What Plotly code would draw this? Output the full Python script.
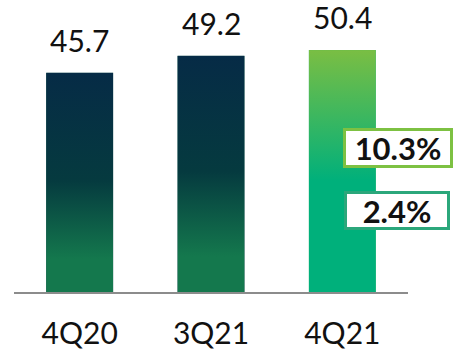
import base64
import plotly.graph_objects as go

categories = ["4Q20", "3Q21", "4Q21"]
values = [45.7, 49.2, 50.4]
value_labels = ["45.7", "49.2", "50.4"]
growth_labels = ["10.3%", "2.4%"]

dark_grad = [("0", "#062B46"), ("0.49", "#053A3F"), ("0.85", "#14784D"), ("1", "#14784D")]
light_grad = [("0", "#7ABE43"), ("0.54", "#00B07B"), ("1", "#00B07B")]
bar_grads = [dark_grad, dark_grad, light_grad]
bar_base_colors = ["#0B4A45", "#0B4A45", "#22B468"]


def grad_uri(stops):
    st = "".join(f'<stop offset="{o}" stop-color="{c}"/>' for o, c in stops)
    svg = (
        '<svg xmlns="http://www.w3.org/2000/svg" width="100" height="100" '
        'viewBox="0 0 100 100" preserveAspectRatio="none">'
        f'<defs><linearGradient id="g" x1="0" y1="0" x2="0" y2="1">{st}</linearGradient></defs>'
        '<rect x="0" y="0" width="100" height="100" fill="url(#g)"/></svg>'
    )
    return "data:image/svg+xml;base64," + base64.b64encode(svg.encode()).decode()


BAR_W = 0.51
fig = go.Figure()
fig.add_trace(go.Bar(
    x=categories, y=values, width=BAR_W,
    marker=dict(color=bar_base_colors, line=dict(width=0)),
    hoverinfo="skip",
))

images = []
for i, v in enumerate(values):
    images.append(dict(
        source=grad_uri(bar_grads[i]), xref="x", yref="y",
        x=i, y=v, sizex=BAR_W, sizey=v, xanchor="center", yanchor="top",
        sizing="stretch", layer="above",
    ))

annotations = []
for i, (v, lab) in enumerate(zip(values, value_labels)):
    annotations.append(dict(
        x=i, y=v, xref="x", yref="y", text=lab, showarrow=False,
        yanchor="bottom", yshift=18, height=28, borderpad=0,
        font=dict(family="Lato", size=30, color="#111111"),
    ))

annotations.append(dict(
    x=0.9746, y=0.5, xref="paper", yref="paper",
    text="<b>" + growth_labels[0] + "</b>", showarrow=False,
    xanchor="center", yanchor="middle",
    font=dict(family="Lato", size=31, color="#111111"),
    bgcolor="white", bordercolor="#7DC142", borderwidth=3, borderpad=0,
    width=104, height=34,
))
annotations.append(dict(
    x=0.972, y=0.283, xref="paper", yref="paper",
    text="<b>" + growth_labels[1] + "</b>", showarrow=False,
    xanchor="center", yanchor="middle",
    font=dict(family="Lato", size=31, color="#111111"),
    bgcolor="white", bordercolor="#2BA77B", borderwidth=3, borderpad=0,
    width=100, height=33,
))

fig.update_layout(
    width=467, height=351,
    margin=dict(l=14, r=59, t=4, b=59, autoexpand=False),
    paper_bgcolor="white", plot_bgcolor="white",
    showlegend=False,
    images=images,
    annotations=annotations,
    xaxis=dict(
        type="category", range=[-0.5, 2.5], automargin=False,
        showline=True, linecolor="#8C8C8C", linewidth=2,
        showgrid=False, zeroline=False, ticks="",
        tickfont=dict(family="Lato", size=30, color="#111111"),
        ticklabelstandoff=14,
    ),
    yaxis=dict(range=[0, 60], visible=False, showgrid=False, zeroline=False,
               automargin=False),
)

fig.write_html("out.html", config={"displayModeBar": False},
               post_script="document.body.style.margin='0';document.body.style.overflow='hidden';")
